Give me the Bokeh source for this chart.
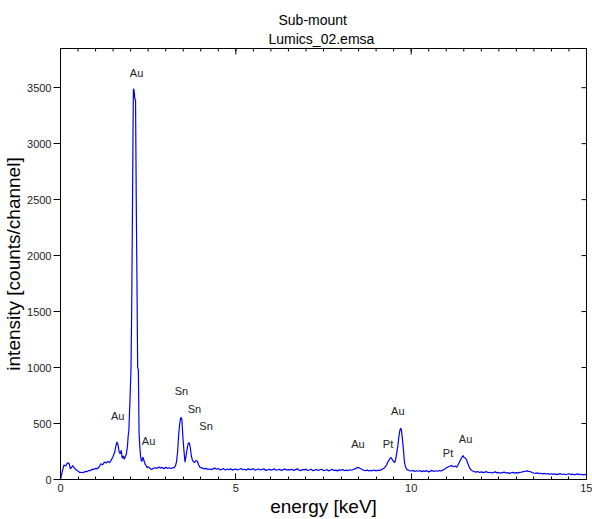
import math
from bokeh.plotting import figure
from bokeh.models import Range1d, LinearAxis, Title, FixedTicker, ColumnDataSource
from bokeh.core.properties import value
from bokeh.embed import file_html
from bokeh.resources import INLINE

# ---------------- data ----------------
energy_kev = [
    0.00, 0.05, 0.10, 0.15, 0.20, 0.25, 0.28, 0.32, 0.35, 0.40, 0.45, 0.50, 0.55, 0.60, 0.65,
    0.70, 0.75, 0.80, 0.85, 0.90, 0.95, 1.00, 1.05, 1.10, 1.15, 1.20, 1.25, 1.30, 1.35, 1.40,
    1.45, 1.50, 1.55, 1.58, 1.61, 1.64, 1.67, 1.70, 1.73, 1.76, 1.79, 1.82, 1.85, 1.88, 1.91,
    1.93, 1.95, 1.98, 2.01, 2.03, 2.05, 2.07, 2.08, 2.10, 2.12, 2.14, 2.16, 2.18, 2.20, 2.22,
    2.24, 2.26, 2.28, 2.30, 2.32, 2.35, 2.38, 2.41, 2.44, 2.47, 2.50, 2.55, 2.60, 2.65, 2.70,
    2.75, 2.80, 2.85, 2.90, 2.95, 3.00, 3.05, 3.10, 3.15, 3.20, 3.25, 3.28, 3.31, 3.34, 3.37,
    3.40, 3.43, 3.46, 3.49, 3.52, 3.55, 3.58, 3.61, 3.64, 3.67, 3.70, 3.73, 3.76, 3.79, 3.82,
    3.86, 3.90, 3.94, 3.98, 4.05, 4.10, 4.15, 4.20, 4.25, 4.30, 4.35, 4.40, 4.45, 4.50, 4.55,
    4.60, 4.65, 4.70, 4.75, 4.80, 4.85, 4.90, 4.95, 5.00, 5.05, 5.10, 5.15, 5.20, 5.25, 5.30,
    5.35, 5.40, 5.45, 5.50, 5.55, 5.60, 5.65, 5.70, 5.75, 5.80, 5.85, 5.90, 5.95, 6.00, 6.05,
    6.10, 6.15, 6.20, 6.25, 6.30, 6.35, 6.40, 6.45, 6.50, 6.55, 6.60, 6.65, 6.70, 6.75, 6.80,
    6.85, 6.90, 6.95, 7.00, 7.05, 7.10, 7.15, 7.20, 7.25, 7.30, 7.35, 7.40, 7.45, 7.50, 7.55,
    7.60, 7.65, 7.70, 7.75, 7.80, 7.85, 7.90, 7.95, 8.00, 8.05, 8.10, 8.15, 8.20, 8.25, 8.30,
    8.35, 8.40, 8.45, 8.50, 8.55, 8.60, 8.65, 8.70, 8.75, 8.80, 8.85, 8.90, 8.95, 9.00, 9.05,
    9.10, 9.15, 9.20, 9.25, 9.30, 9.35, 9.40, 9.43, 9.46, 9.50, 9.53, 9.56, 9.59, 9.62, 9.65,
    9.68, 9.70, 9.72, 9.75, 9.78, 9.81, 9.84, 9.87, 9.90, 9.95, 10.00, 10.05, 10.10, 10.15, 10.20,
    10.25, 10.30, 10.35, 10.40, 10.45, 10.50, 10.55, 10.60, 10.65, 10.70, 10.75, 10.80, 10.85, 10.90, 10.95,
    11.00, 11.05, 11.10, 11.15, 11.20, 11.25, 11.30, 11.35, 11.40, 11.45, 11.48, 11.51, 11.55, 11.58, 11.62,
    11.66, 11.70, 11.75, 11.80, 11.85, 11.90, 11.95, 12.00, 12.05, 12.10, 12.15, 12.20, 12.25, 12.30, 12.35,
    12.40, 12.45, 12.50, 12.55, 12.60, 12.65, 12.70, 12.75, 12.80, 12.85, 12.90, 12.95, 13.00, 13.05, 13.10,
    13.15, 13.20, 13.25, 13.30, 13.35, 13.40, 13.45, 13.50, 13.55, 13.60, 13.65, 13.70, 13.75, 13.80, 13.85,
    13.90, 13.95, 14.00, 14.05, 14.10, 14.15, 14.20, 14.25, 14.30, 14.35, 14.40, 14.45, 14.50, 14.55, 14.60,
    14.65, 14.70, 14.75, 14.80, 14.85, 14.90, 14.95, 15.00,
]
counts = [
    0, 70, 130, 120, 150, 140, 95, 110, 125, 100, 85, 75, 62, 65, 60,
    72, 70, 80, 78, 92, 88, 100, 96, 112, 140, 130, 155, 148, 162, 150,
    175, 205, 250, 300, 335, 310, 250, 230, 260, 190, 210, 180, 205, 230, 300,
    390, 440, 700, 985, 1520, 2320, 3200, 3490, 3470, 3400, 3390, 2500, 1790, 1000, 980,
    420, 300, 220, 175, 160, 200, 170, 140, 125, 105, 115, 100, 88, 100, 105,
    98, 112, 102, 108, 96, 110, 100, 105, 98, 104, 108, 125, 160, 250, 400,
    500, 555, 540, 380, 260, 155, 210, 270, 320, 330, 290, 210, 175, 160, 150,
    170, 165, 130, 108, 102, 95, 100, 90, 94, 88, 95, 102, 92, 98, 86,
    90, 97, 85, 92, 88, 96, 84, 90, 93, 85, 91, 98, 87, 92, 84,
    95, 88, 90, 97, 82, 89, 93, 85, 90, 96, 80, 86, 92, 84, 88,
    95, 83, 87, 91, 80, 88, 93, 84, 88, 86, 92, 81, 88, 95, 84,
    79, 90, 86, 93, 80, 85, 91, 78, 84, 89, 81, 87, 92, 79, 83,
    88, 76, 85, 90, 80, 84, 77, 86, 82, 89, 78, 84, 80, 87, 83,
    90, 95, 104, 108, 98, 90, 82, 78, 84, 76, 82, 79, 85, 77, 83,
    80, 88, 96, 108, 132, 165, 188, 196, 178, 160, 150, 185, 240, 300, 385,
    440, 458, 445, 365, 265, 150, 112, 92, 86, 80, 76, 82, 71, 78, 74,
    80, 70, 77, 73, 79, 68, 75, 81, 72, 78, 74, 80, 76, 84, 92,
    104, 112, 118, 126, 114, 121, 110, 138, 172, 200, 214, 196, 190, 174, 140,
    108, 88, 76, 70, 66, 72, 63, 68, 61, 66, 70, 60, 65, 58, 64,
    68, 59, 63, 57, 62, 66, 58, 61, 55, 60, 64, 57, 62, 59, 64,
    66, 71, 74, 77, 73, 70, 62, 58, 55, 59, 52, 56, 50, 54, 49,
    53, 47, 51, 46, 50, 44, 48, 52, 45, 49, 43, 47, 51, 44, 48,
    42, 46, 50, 43, 47, 41, 45, 44,
]

peak_names = ["Au", "Au", "Au", "Sn", "Sn", "Sn", "Au", "Pt", "Au", "Pt", "Au"]
peak_label_x = [2.17, 1.63, 2.51, 3.45, 3.82, 4.15, 8.48, 9.34, 9.62, 11.05, 11.55]
peak_label_y = [3627, 570, 341, 793, 633, 481, 321, 314, 615, 236, 365]

x_major_ticks = [0, 5, 10, 15]
x_minor_ticks = [i * 0.5 for i in range(31)]
y_major_ticks = [0, 500, 1000, 1500, 2000, 2500, 3000, 3500]

title_line1 = "Sub-mount"
title_line2 = "Lumics_02.emsa"
x_title = "energy [keV]"
y_title = "intensity [counts/channel]"

X_MIN, X_MAX = 0, 15
Y_MIN, Y_MAX = 0, 3850

# ---------------- layout ----------------
W, H = 592, 519
BL, BR, BT, BB = 60, 6, 48, 39
FONT = "Liberation Sans"

p = figure(width=W, height=H, output_backend="svg", toolbar_location=None,
           x_range=Range1d(X_MIN, X_MAX), y_range=Range1d(Y_MIN, Y_MAX),
           min_border_left=BL, min_border_right=BR, min_border_top=BT, min_border_bottom=BB,
           x_axis_location=None, y_axis_location=None)
p.title.visible = False
p.grid.visible = False
p.outline_line_color = "black"
p.outline_line_width = 1
p.background_fill_color = "white"
p.border_fill_color = "white"

# bottom axis
xb = LinearAxis(ticker=FixedTicker(ticks=x_major_ticks, minor_ticks=x_minor_ticks))
xb.major_tick_in = 6
xb.major_tick_out = 0
xb.minor_tick_in = 3
xb.minor_tick_out = 0
xb.major_label_standoff = 4
xb.major_label_text_font = FONT
xb.major_label_text_font_size = "11px"
xb.major_label_text_color = "#222222"
xb.axis_line_color = "black"
xb.axis_label = x_title
xb.axis_label_text_font = FONT
xb.axis_label_text_font_size = "19px"
xb.axis_label_text_font_style = "normal"
xb.axis_label_text_color = "black"
xb.axis_label_standoff = 1
p.add_layout(xb, "below")

# left axis
yl = LinearAxis(ticker=FixedTicker(ticks=y_major_ticks, minor_ticks=[]))
yl.major_tick_in = 0
yl.major_tick_out = 7
yl.major_label_standoff = 2
yl.major_label_text_font = FONT
yl.major_label_text_font_size = "11px"
yl.major_label_text_color = "#222222"
yl.axis_line_color = "black"
yl.axis_label = y_title
yl.axis_label_text_font = FONT
yl.axis_label_text_font_size = "19px"
yl.axis_label_text_font_style = "normal"
yl.axis_label_text_color = "black"
yl.axis_label_standoff = 0
p.add_layout(yl, "left")

# top / right tick marks (inward only: markers are clipped to the frame)
p.scatter(x=x_minor_ticks, y=[Y_MAX] * len(x_minor_ticks), marker="dash", size=6,
          angle=math.pi / 2, line_color="black", line_width=1)
p.scatter(x=x_major_ticks, y=[Y_MAX] * len(x_major_ticks), marker="dash", size=12,
          angle=math.pi / 2, line_color="black", line_width=1)
p.scatter(x=[X_MAX] * len(y_major_ticks), y=y_major_ticks, marker="dash", size=10,
          line_color="black", line_width=1)

# spectrum
p.line(energy_kev, counts, line_color="#0000ff", line_width=1.2)

# peak labels
src = ColumnDataSource(dict(x=peak_label_x, y=peak_label_y, t=peak_names))
p.text(x="x", y="y", text="t", source=src, text_font=value(FONT), text_font_size="11px",
       text_color="#222222", text_align="center", text_baseline="middle")

# two-line title (first added is nearest to the frame); left-aligned with pixel offsets
t2 = Title(text=title_line2, align="left", offset=208, standoff=3,
           text_font=FONT, text_font_size="14px", text_font_style="normal", text_color="black")
p.add_layout(t2, "above")
t1 = Title(text=title_line1, align="left", offset=218, standoff=0,
           text_font=FONT, text_font_size="14px", text_font_style="normal", text_color="black")
p.add_layout(t1, "above")

open("out.html", "w").write(file_html(p, INLINE))
